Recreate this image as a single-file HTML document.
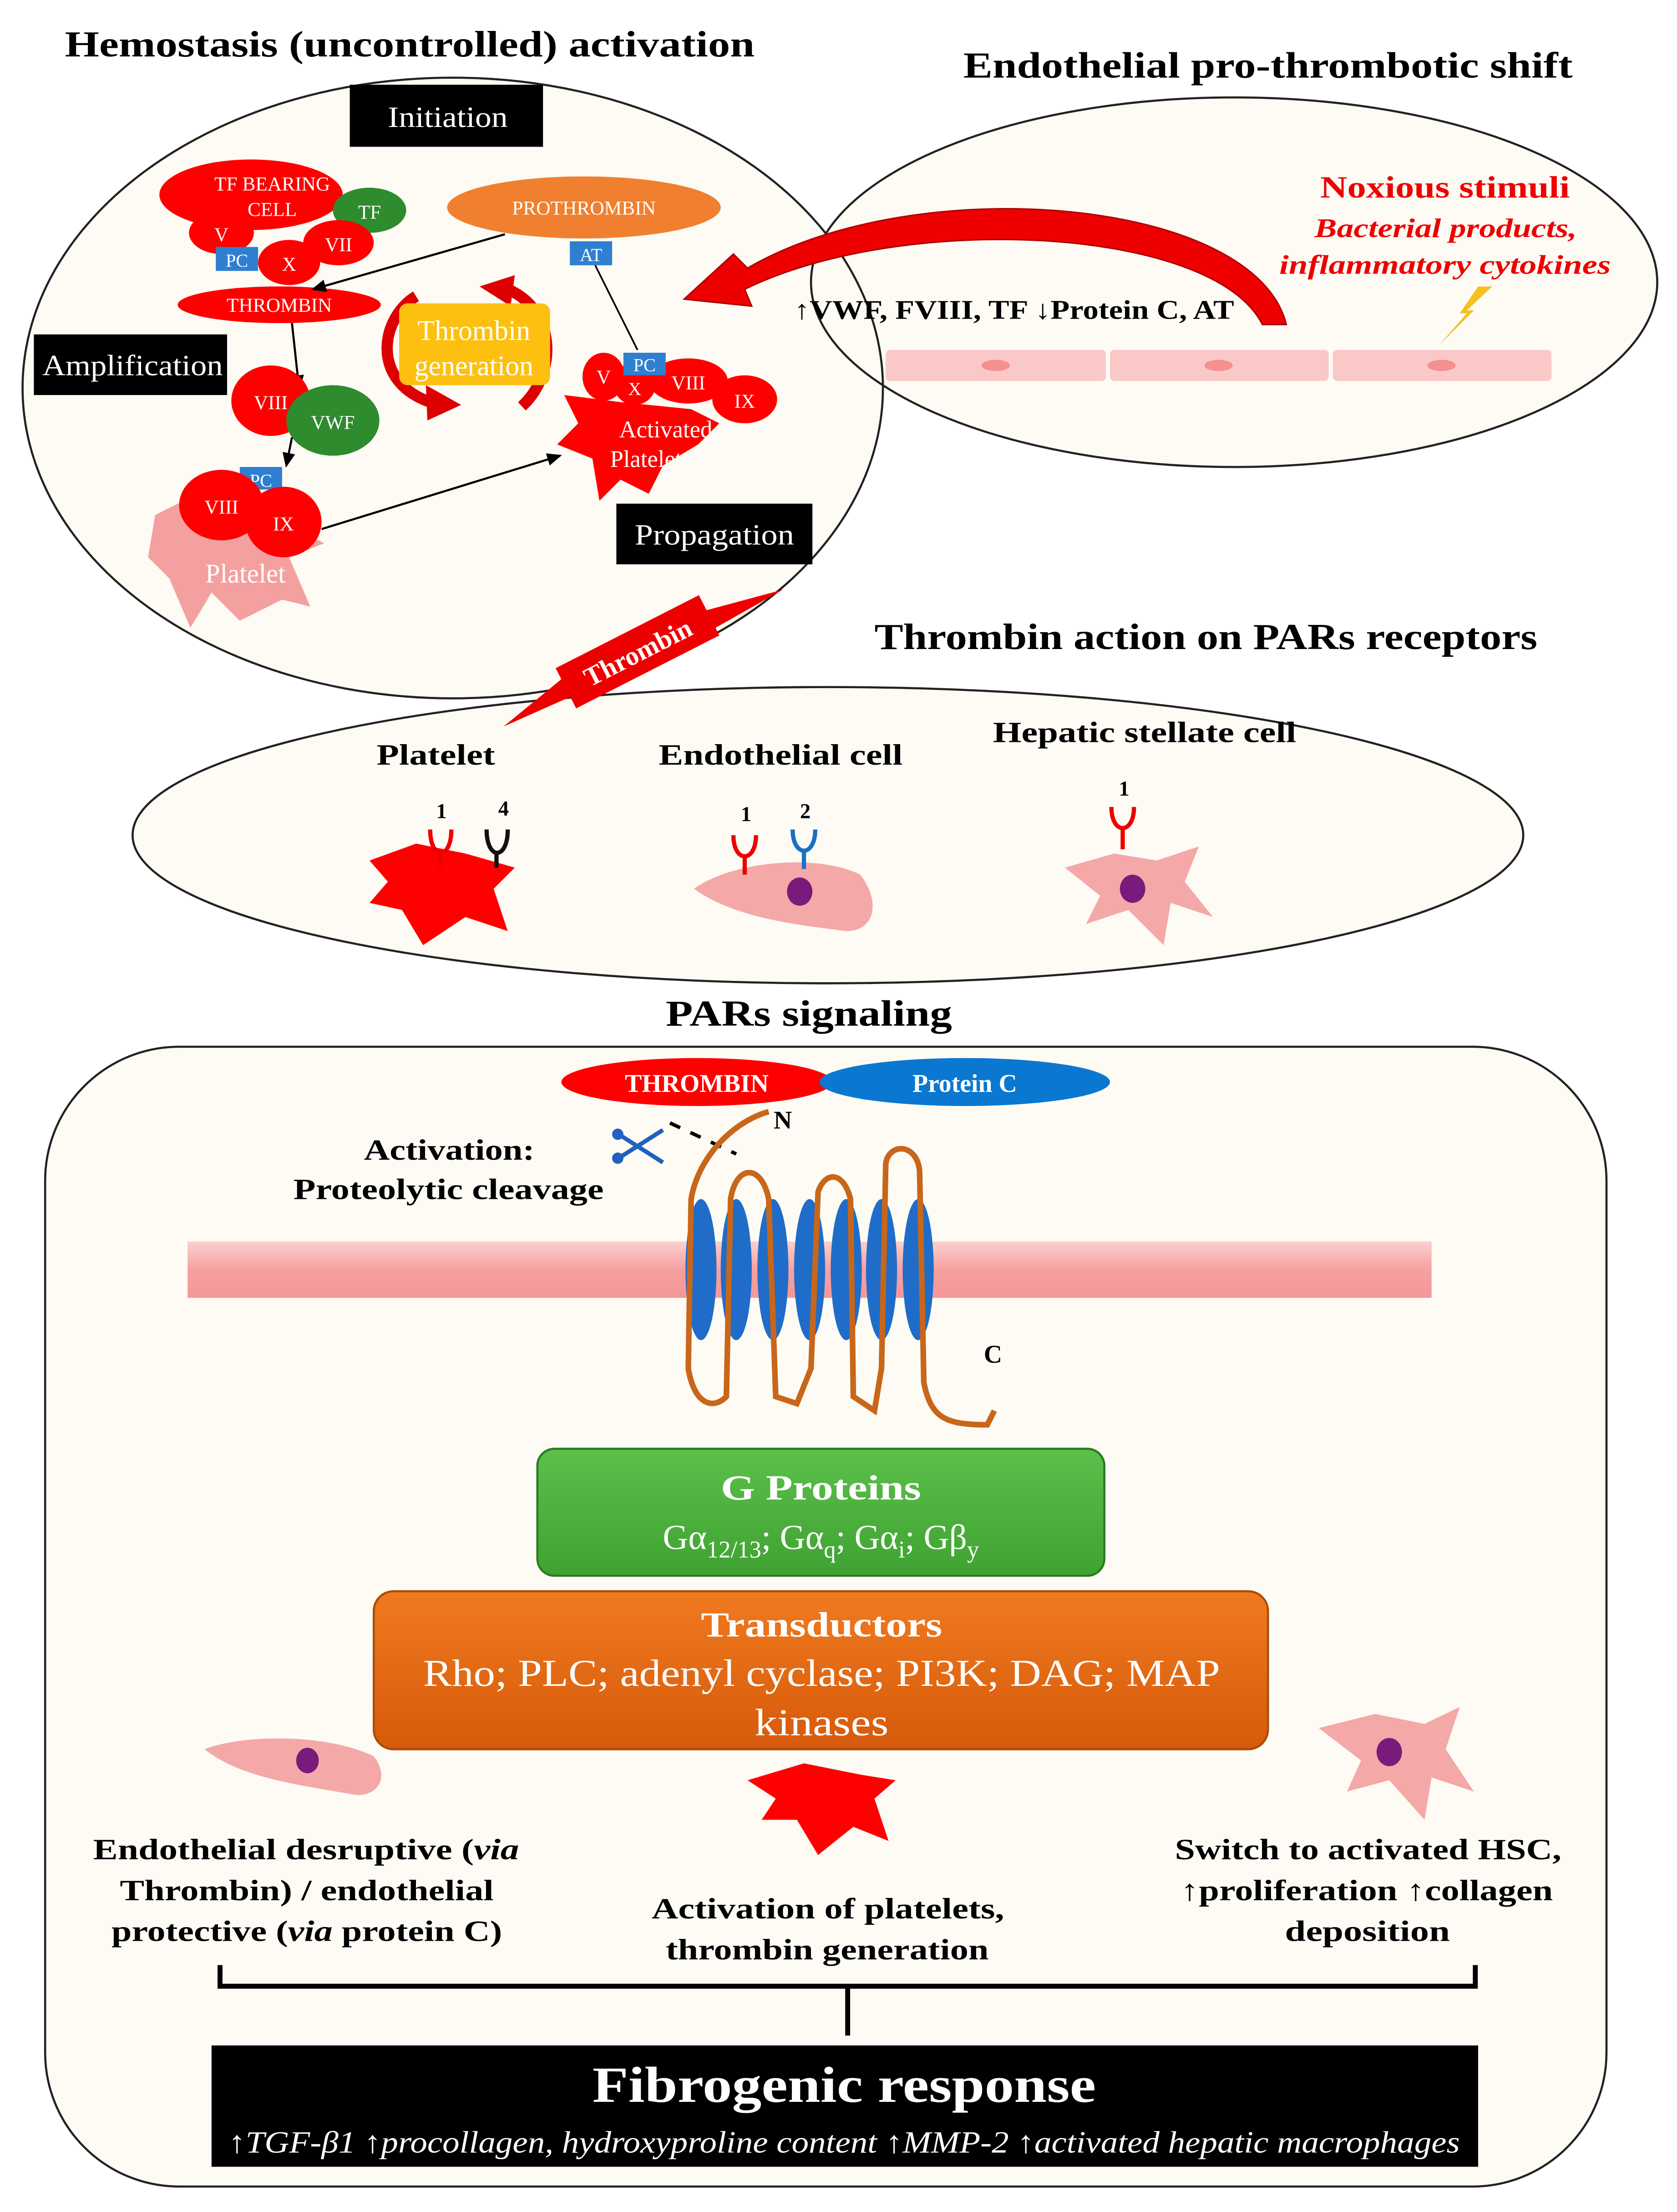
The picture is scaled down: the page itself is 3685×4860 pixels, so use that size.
<!DOCTYPE html>
<html><head><meta charset="utf-8"><style>
html,body{margin:0;padding:0;background:#fff;}
svg{display:block;}
text{font-family:"Liberation Serif",serif;}
</style></head><body>
<svg width="3685" height="4860" viewBox="0 0 1189 1568" xmlns="http://www.w3.org/2000/svg">
<defs>
<linearGradient id="mem" x1="0" y1="0" x2="0" y2="1"><stop offset="0" stop-color="#fbd0d0"/><stop offset="0.5" stop-color="#f7a0a0"/><stop offset="1" stop-color="#f49898"/></linearGradient>
<linearGradient id="gr" x1="0" y1="0" x2="0" y2="1"><stop offset="0" stop-color="#5cc04a"/><stop offset="1" stop-color="#3fa232"/></linearGradient>
<linearGradient id="org" x1="0" y1="0" x2="0" y2="1"><stop offset="0" stop-color="#f07a20"/><stop offset="1" stop-color="#d65a0a"/></linearGradient>
<marker id="ar" markerWidth="8" markerHeight="8" refX="6" refY="3" orient="auto"><path d="M0,0 L7,3 L0,6 z" fill="#000"/></marker>
</defs>
<rect width="1189" height="1568" fill="#fff"/>

<ellipse cx="321" cy="275" rx="305" ry="220" fill="#fdfbf4"/>
<ellipse cx="875" cy="200" rx="300" ry="131" fill="#fdfbf4"/>
<ellipse cx="321" cy="275" rx="305" ry="220" fill="none" stroke="#222" stroke-width="1.5"/>
<ellipse cx="875" cy="200" rx="300" ry="131" fill="none" stroke="#222" stroke-width="1.5"/>
<ellipse cx="587" cy="592" rx="493" ry="105" fill="#fdfbf4" stroke="#222" stroke-width="1.5"/>
<rect x="32" y="742" width="1107" height="808" rx="95" fill="#fdfbf4" stroke="#222" stroke-width="1.5"/>

<g lengthAdjust="spacingAndGlyphs">
<text x="46" y="40" font-size="26" font-weight="bold" textLength="489" lengthAdjust="spacingAndGlyphs">Hemostasis (uncontrolled) activation</text>
<text x="683" y="55" font-size="26" font-weight="bold" textLength="432" lengthAdjust="spacingAndGlyphs">Endothelial pro-thrombotic shift</text>
<text x="620" y="460" font-size="26" font-weight="bold" textLength="470" lengthAdjust="spacingAndGlyphs">Thrombin action on PARs receptors</text>
<text x="472" y="727" font-size="26" font-weight="bold" textLength="203" lengthAdjust="spacingAndGlyphs">PARs signaling</text>
</g>

<rect x="248" y="60" width="137" height="44" fill="#000"/>
<text x="275" y="90" font-size="21" fill="#fff" textLength="85" lengthAdjust="spacingAndGlyphs">Initiation</text>
<rect x="24" y="237" width="137" height="43" fill="#000"/>
<text x="30" y="266" font-size="21" fill="#fff" textLength="128" lengthAdjust="spacingAndGlyphs">Amplification</text>
<rect x="437" y="357" width="139" height="43" fill="#000"/>
<text x="450" y="386" font-size="21" fill="#fff" textLength="113" lengthAdjust="spacingAndGlyphs">Propagation</text>

<ellipse cx="178" cy="138" rx="65" ry="25" fill="#f00"/>
<text x="193" y="135" font-size="14" fill="#fff" text-anchor="middle">TF BEARING</text>
<text x="193" y="153" font-size="14" fill="#fff" text-anchor="middle">CELL</text>
<ellipse cx="262" cy="149" rx="26" ry="16" fill="#2e8b2e"/>
<text x="262" y="155" font-size="14" fill="#fff" text-anchor="middle">TF</text>
<ellipse cx="157" cy="165" rx="23" ry="15" fill="#f00"/>
<text x="157" y="171" font-size="14" fill="#fff" text-anchor="middle">V</text>
<ellipse cx="240" cy="172" rx="25" ry="16" fill="#f00"/>
<text x="240" y="178" font-size="14" fill="#fff" text-anchor="middle">VII</text>
<ellipse cx="205" cy="186" rx="22" ry="16" fill="#f00"/>
<text x="205" y="192" font-size="14" fill="#fff" text-anchor="middle">X</text>
<rect x="153" y="175" width="30" height="17" fill="#2f7fd0"/>
<text x="168" y="189" font-size="13" fill="#fff" text-anchor="middle">PC</text>
<ellipse cx="198" cy="216" rx="72" ry="13" fill="#f00"/>
<text x="198" y="221" font-size="14" fill="#fff" text-anchor="middle">THROMBIN</text>
<ellipse cx="414" cy="147" rx="97" ry="22" fill="#f08030"/>
<text x="414" y="152" font-size="14" fill="#fff" text-anchor="middle">PROTHROMBIN</text>
<rect x="404" y="171" width="30" height="17" fill="#2f7fd0"/>
<text x="419" y="185" font-size="13" fill="#fff" text-anchor="middle">AT</text>
<line x1="358" y1="166" x2="222" y2="205" stroke="#000" stroke-width="1.5" marker-end="url(#ar)"/>
<line x1="207" y1="229" x2="212" y2="275" stroke="#000" stroke-width="1.5" marker-end="url(#ar)"/>
<line x1="422" y1="188" x2="452" y2="248" stroke="#000" stroke-width="1.2"/>

<!-- thrombin generation cycle -->
<path d="M295,210 C270,225 262,270 305,285" fill="none" stroke="#d00" stroke-width="8"/>
<path d="M302,273 L327,287 L303,298 z" fill="#d00"/>
<path d="M370,288 C395,265 395,220 360,205" fill="none" stroke="#d00" stroke-width="8"/>
<path d="M365,195 L340,203 L362,217 z" fill="#d00"/>
<rect x="283" y="215" width="107" height="58" rx="6" fill="#fdc010"/>
<text x="336" y="241" font-size="20" fill="#fff" text-anchor="middle">Thrombin</text>
<text x="336" y="266" font-size="20" fill="#fff" text-anchor="middle">generation</text>

<ellipse cx="192" cy="284" rx="28" ry="25" fill="#f00"/>
<text x="192" y="290" font-size="14" fill="#fff" text-anchor="middle">VIII</text>
<ellipse cx="236" cy="298" rx="33" ry="25" fill="#2e8b2e"/>
<text x="236" y="304" font-size="14" fill="#fff" text-anchor="middle">VWF</text>
<line x1="207" y1="310" x2="203" y2="330" stroke="#000" stroke-width="1.5" marker-end="url(#ar)"/>
<path d="M110,365 L140,350 L170,360 L200,370 L230,385 L205,395 L220,430 L200,425 L170,440 L150,420 L135,445 L120,410 L105,395 z" fill="#f4a0a0"/>
<text x="174" y="413" font-size="19" fill="#fff" text-anchor="middle">Platelet</text>
<rect x="170" y="331" width="30" height="16" fill="#2f7fd0"/>
<text x="185" y="345" font-size="13" fill="#fff" text-anchor="middle">PC</text>
<ellipse cx="157" cy="358" rx="30" ry="25" fill="#f00"/>
<text x="157" y="364" font-size="14" fill="#fff" text-anchor="middle">VIII</text>
<ellipse cx="201" cy="370" rx="27" ry="25" fill="#f00"/>
<text x="201" y="376" font-size="14" fill="#fff" text-anchor="middle">IX</text>
<line x1="228" y1="375" x2="397" y2="323" stroke="#000" stroke-width="1.5" marker-end="url(#ar)"/>

<path d="M400,280 L440,285 L490,290 L510,300 L495,315 L470,330 L460,350 L440,340 L425,355 L420,325 L395,315 L410,300 z" fill="#f00"/>
<ellipse cx="428" cy="267" rx="15" ry="17" fill="#f00"/>
<ellipse cx="450" cy="272" rx="15" ry="15" fill="#f00"/>
<ellipse cx="488" cy="270" rx="28" ry="16" fill="#f00"/>
<ellipse cx="528" cy="283" rx="23" ry="17" fill="#f00"/>
<text x="428" y="272" font-size="14" fill="#fff" text-anchor="middle">V</text>
<text x="450" y="280" font-size="13" fill="#fff" text-anchor="middle">X</text>
<text x="488" y="276" font-size="14" fill="#fff" text-anchor="middle">VIII</text>
<text x="528" y="289" font-size="14" fill="#fff" text-anchor="middle">IX</text>
<rect x="442" y="250" width="30" height="16" fill="#2f7fd0"/>
<text x="457" y="263" font-size="13" fill="#fff" text-anchor="middle">PC</text>
<text x="472" y="310" font-size="17" fill="#fff" text-anchor="middle">Activated</text>
<text x="458" y="331" font-size="17" fill="#fff" text-anchor="middle">Platelet</text>

<path d="M912,230 C890,140 650,120 530,190 L520,180 L485,212 L533,217 L528,205 C640,150 860,160 895,230 z" fill="#e00" stroke="#a00" stroke-width="1"/>
<text x="936" y="140" font-size="22" fill="#e00" font-weight="bold" textLength="177" lengthAdjust="spacingAndGlyphs">Noxious stimuli</text>
<text x="932" y="168" font-size="19" fill="#e00" font-weight="bold" font-style="italic" textLength="186" lengthAdjust="spacingAndGlyphs">Bacterial products,</text>
<text x="907" y="194" font-size="19" fill="#e00" font-weight="bold" font-style="italic" textLength="235" lengthAdjust="spacingAndGlyphs">inflammatory cytokines</text>
<path d="M1048,203 L1035,222 L1040,222 L1020,245 L1045,220 L1040,220 L1058,203 z" fill="#f5c020"/>
<text x="563" y="226" font-size="19" font-weight="bold" textLength="312" lengthAdjust="spacingAndGlyphs">↑VWF, FVIII, TF ↓Protein C, AT</text>
<rect x="628" y="248" width="156" height="22" rx="3" fill="#fbc8c8"/>
<rect x="787" y="248" width="155" height="22" rx="3" fill="#fbc8c8"/>
<rect x="945" y="248" width="155" height="22" rx="3" fill="#fbc8c8"/>
<ellipse cx="706" cy="259" rx="10" ry="4" fill="#f49090"/>
<ellipse cx="864" cy="259" rx="10" ry="4" fill="#f49090"/>
<ellipse cx="1022" cy="259" rx="10" ry="4" fill="#f49090"/>

<!-- thrombin ribbon -->
<path d="M357,515 L420,487 L412,470 z" fill="#e00"/>
<path d="M555,418 L495,452 L488,436 z" fill="#e00"/>
<g transform="translate(452,462) rotate(-27)">
<rect x="-57" y="-16" width="114" height="32" fill="#e00"/>
<text x="0" y="7" font-size="19" fill="#fff" font-weight="bold" text-anchor="middle">Thrombin</text>
</g>

<text x="267" y="542" font-size="21" font-weight="bold" textLength="84" lengthAdjust="spacingAndGlyphs">Platelet</text>
<text x="467" y="542" font-size="21" font-weight="bold" textLength="173" lengthAdjust="spacingAndGlyphs">Endothelial cell</text>
<text x="704" y="526" font-size="21" font-weight="bold" textLength="215" lengthAdjust="spacingAndGlyphs">Hepatic stellate cell</text>
<path d="M262,610 L295,598 L330,605 L365,615 L350,630 L360,660 L330,650 L300,670 L285,645 L262,640 L275,625 z" fill="#f00"/>
<path d="M305,588 C305,610 320,610 320,588 M312,604 L312,615" fill="none" stroke="#e00" stroke-width="3"/>
<path d="M345,588 C345,610 360,610 360,588 M352,604 L352,615" fill="none" stroke="#111" stroke-width="3"/>
<text x="313" y="580" font-size="15" font-weight="bold" text-anchor="middle">1</text>
<text x="357" y="578" font-size="15" font-weight="bold" text-anchor="middle">4</text>
<path d="M492,630 C520,610 580,605 610,620 C625,640 620,660 600,660 C560,655 520,650 492,630 z" fill="#f4a8a8"/>
<ellipse cx="567" cy="632" rx="9" ry="10" fill="#7a1a7a"/>
<path d="M520,592 C520,612 536,612 536,592 M528,606 L528,620" fill="none" stroke="#e00" stroke-width="3"/>
<path d="M562,588 C562,608 578,608 578,588 M570,602 L570,616" fill="none" stroke="#1a70c0" stroke-width="3"/>
<text x="529" y="582" font-size="15" font-weight="bold" text-anchor="middle">1</text>
<text x="571" y="580" font-size="15" font-weight="bold" text-anchor="middle">2</text>
<path d="M755,615 L790,605 L820,610 L850,600 L840,625 L860,650 L830,640 L825,670 L800,645 L770,655 L780,635 z" fill="#f4a8a8"/>
<ellipse cx="803" cy="630" rx="9" ry="10" fill="#7a1a7a"/>
<path d="M788,572 C788,592 804,592 804,572 M796,586 L796,602" fill="none" stroke="#e00" stroke-width="3"/>
<text x="797" y="564" font-size="15" font-weight="bold" text-anchor="middle">1</text>

<ellipse cx="494" cy="767" rx="96" ry="17" fill="#f00"/>
<ellipse cx="684" cy="767" rx="103" ry="17" fill="#0a78d0"/>
<text x="494" y="774" font-size="18" fill="#fff" font-weight="bold" text-anchor="middle">THROMBIN</text>
<text x="684" y="774" font-size="18" fill="#fff" font-weight="bold" text-anchor="middle">Protein C</text>
<text x="258" y="822" font-size="21" font-weight="bold" textLength="121" lengthAdjust="spacingAndGlyphs">Activation:</text>
<text x="208" y="850" font-size="21" font-weight="bold" textLength="220" lengthAdjust="spacingAndGlyphs">Proteolytic cleavage</text>
<text x="555" y="800" font-size="18" font-weight="bold" text-anchor="middle">N</text>
<text x="704" y="966" font-size="18" font-weight="bold" text-anchor="middle">C</text>
<path d="M437,803 L470,824 M437,822 L470,801" stroke="#2060c0" stroke-width="3"/>
<circle cx="438" cy="804" r="4" fill="#2060c0"/><circle cx="438" cy="821" r="4" fill="#2060c0"/>
<line x1="475" y1="796" x2="522" y2="818" stroke="#000" stroke-width="2.5" stroke-dasharray="8,8"/>
<rect x="133" y="880" width="882" height="40" fill="url(#mem)"/>
<g fill="#1f6dc8">
<ellipse cx="497" cy="900" rx="11" ry="50"/><ellipse cx="522" cy="900" rx="11" ry="50"/><ellipse cx="548" cy="900" rx="11" ry="50"/><ellipse cx="574" cy="900" rx="11" ry="50"/><ellipse cx="600" cy="900" rx="11" ry="50"/><ellipse cx="625" cy="900" rx="11" ry="50"/><ellipse cx="651" cy="900" rx="11" ry="50"/>
</g>
<path d="M545,788 C520,795 495,820 490,850 L488,970 C492,995 505,1000 515,990 L518,850 C522,825 540,825 545,850 L550,990 L565,995 L575,970 L580,845 C585,830 598,830 603,850 L605,990 L620,1000 L625,970 L628,825 C630,810 650,810 652,830 L655,980 C660,1005 670,1010 700,1010 L705,1000" fill="none" stroke="#c8661a" stroke-width="4"/>

<rect x="381" y="1027" width="402" height="90" rx="12" fill="url(#gr)" stroke="#2c7a22" stroke-width="1.5"/>
<text x="511" y="1063" font-size="25" fill="#fff" font-weight="bold" textLength="142" lengthAdjust="spacingAndGlyphs">G Proteins</text>
<text x="582" y="1098" font-size="25" fill="#fff" text-anchor="middle">Gα<tspan font-size="17" dy="6">12/13</tspan><tspan dy="-6">; Gα</tspan><tspan font-size="17" dy="6">q</tspan><tspan dy="-6">; Gα</tspan><tspan font-size="17" dy="6">i</tspan><tspan dy="-6">; Gβ</tspan><tspan font-size="17" dy="6">y</tspan></text>
<rect x="265" y="1128" width="634" height="112" rx="14" fill="url(#org)" stroke="#b04a08" stroke-width="1.5"/>
<text x="497" y="1160" font-size="25" fill="#fff" font-weight="bold" textLength="171" lengthAdjust="spacingAndGlyphs">Transductors</text>
<text x="300" y="1195" font-size="27" fill="#fff" textLength="565" lengthAdjust="spacingAndGlyphs">Rho; PLC; adenyl cyclase; PI3K; DAG; MAP</text>
<text x="535" y="1230" font-size="27" fill="#fff" textLength="95" lengthAdjust="spacingAndGlyphs">kinases</text>

<path d="M145,1240 C170,1230 230,1228 265,1245 C278,1262 265,1275 250,1272 C210,1265 170,1260 145,1240 z" fill="#f4a8a8"/>
<ellipse cx="218" cy="1248" rx="8" ry="9" fill="#7a1a7a"/>
<path d="M530,1262 L570,1250 L610,1258 L635,1262 L620,1275 L630,1305 L605,1295 L580,1315 L565,1290 L540,1290 L550,1275 z" fill="#f00"/>
<path d="M935,1225 L975,1215 L1010,1222 L1035,1210 L1025,1240 L1045,1270 L1015,1260 L1010,1290 L985,1262 L955,1270 L965,1248 z" fill="#f4a8a8"/>
<ellipse cx="985" cy="1242" rx="9" ry="10" fill="#7a1a7a"/>

<g font-size="21" font-weight="bold">
<text x="66" y="1318" textLength="302" lengthAdjust="spacingAndGlyphs">Endothelial desruptive (<tspan font-style="italic">via</tspan></text>
<text x="85" y="1347" textLength="265" lengthAdjust="spacingAndGlyphs">Thrombin) / endothelial</text>
<text x="79" y="1376" textLength="277" lengthAdjust="spacingAndGlyphs">protective (<tspan font-style="italic">via</tspan> protein C)</text>
<text x="462" y="1360" textLength="250" lengthAdjust="spacingAndGlyphs">Activation of platelets,</text>
<text x="472" y="1389" textLength="229" lengthAdjust="spacingAndGlyphs">thrombin generation</text>
<text x="833" y="1318" textLength="274" lengthAdjust="spacingAndGlyphs">Switch to activated HSC,</text>
<text x="837" y="1347" textLength="264" lengthAdjust="spacingAndGlyphs">↑proliferation ↑collagen</text>
<text x="911" y="1376" textLength="117" lengthAdjust="spacingAndGlyphs">deposition</text>
</g>
<path d="M156,1393 L156,1408 L1046,1408 L1046,1393 M601,1408 L601,1443" fill="none" stroke="#000" stroke-width="3.5"/>
<rect x="150" y="1450" width="898" height="86" fill="#000"/>
<text x="420" y="1490" font-size="36" font-weight="bold" fill="#fff" textLength="357" lengthAdjust="spacingAndGlyphs">Fibrogenic response</text>
<text x="162" y="1526" font-size="22" font-style="italic" fill="#fff" textLength="873" lengthAdjust="spacingAndGlyphs">↑TGF-β1 ↑procollagen, hydroxyproline content ↑MMP-2 ↑activated hepatic macrophages</text>
</svg>
</body></html>
